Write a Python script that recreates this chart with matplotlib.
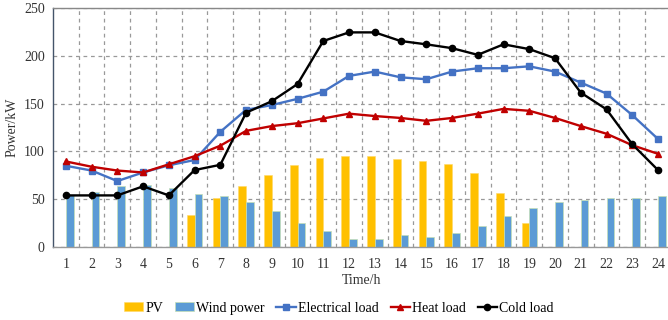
import matplotlib
matplotlib.use("Agg")
import matplotlib.pyplot as plt
import numpy as np

hours = list(range(1, 25))
pv = [0, 0, 0, 0, 0, 33.5, 51, 64, 75, 85.5, 93, 95.5, 95.5, 92, 89.5, 87, 77, 56, 25.5, 0, 0, 0, 0, 0]
wind = [54, 58, 64, 65, 61.5, 55.5, 53, 47.5, 38, 25.5, 17, 8, 8, 12.5, 10, 15, 21.5, 32.5, 41, 47, 49.5, 51, 51, 53.5]
elec = [85, 80, 69, 78, 85.5, 91, 120.5, 143.5, 148.5, 155, 162.5, 179, 183.5, 177.5, 175.5, 183.5, 187, 187, 189, 183.5, 172, 160.5, 138, 113]
heat = [89.5, 84, 80, 78, 86.5, 95, 106, 121.5, 126.5, 129.5, 134.5, 139.5, 137, 135, 132, 135, 139.5, 144.5, 142.5, 135, 126.5, 118.5, 106.5, 97.5]
cold = [54, 54, 54, 63.5, 54, 80.5, 86, 140.5, 152.5, 170.5, 215.5, 224.5, 224.5, 215.5, 212, 208, 201, 212, 207, 197.5, 161.5, 144, 107.5, 80.5]
yticks = [0, 50, 100, 150, 200, 250]

plt.rcParams['font.family'] = ['Liberation Serif', 'DejaVu Serif']
plt.rcParams['font.size'] = 10

fig = plt.figure(figsize=(6.68, 3.2), dpi=100)
ax = fig.add_axes([0.0793, 0.228, 0.925, 0.747])

x = np.array(hours)
w = 0.3
b1 = ax.bar(x - w / 2, pv, width=w, color='#FFC000', edgecolor='#FFD966', linewidth=0.4, zorder=2, label='PV')
b2 = ax.bar(x + w / 2, wind, width=w, color='#5B9BD5', edgecolor='#C5E0B4', linewidth=0.5, zorder=2, label='Wind power')
l1, = ax.plot(x, elec, color='#4472C4', marker='s', markersize=4.5, linewidth=1.7, zorder=4, label='Electrical load')
l2, = ax.plot(x, heat, color='#C00000', marker='^', markersize=4.5, linewidth=1.7, zorder=4, label='Heat load')
l3, = ax.plot(x, cold, color='black', marker='o', markersize=4.5, linewidth=1.7, zorder=5, label='Cold load')

ax.set_xlim(0.5, 24.5)
ax.set_ylim(0, 250)
ax.set_xticks(x)
ax.set_xticklabels([str(h) for h in hours])
ax.set_yticks(yticks)
ax.set_xticks(np.arange(1.5, 24.5, 1), minor=True)
ax.tick_params(axis='both', which='both', length=0, colors='#333333', labelsize=10)
ax.tick_params(axis='x', pad=8)
ax.tick_params(axis='y', pad=6)
ax.grid(axis='y', which='major', linestyle=(0, (3, 3)), color='#999999', linewidth=0.9, zorder=0)
ax.grid(axis='x', which='minor', linestyle=(0, (3, 3)), color='#999999', linewidth=0.9, zorder=0)
ax.grid(axis='x', which='major', visible=False)
ax.set_axisbelow(True)

ax.spines['left'].set_color('#44546A')
ax.spines['bottom'].set_color('#999999')
ax.spines['top'].set_color('#888888')
ax.spines['right'].set_visible(False)
for s in ax.spines.values():
    s.set_linewidth(1.0)

ax.set_xlabel('Time/h', color='#333333', labelpad=2)
ax.set_ylabel('Power/kW', color='#333333', labelpad=4)

fig.legend(handles=[b1, b2, l1, l2, l3], loc='center', bbox_to_anchor=(0.507, 0.037), ncol=5, frameon=False,
           handlelength=1.4, handleheight=0.6, handletextpad=0.15, columnspacing=0.85, fontsize=10)

fig.savefig('out.png', dpi=100)
